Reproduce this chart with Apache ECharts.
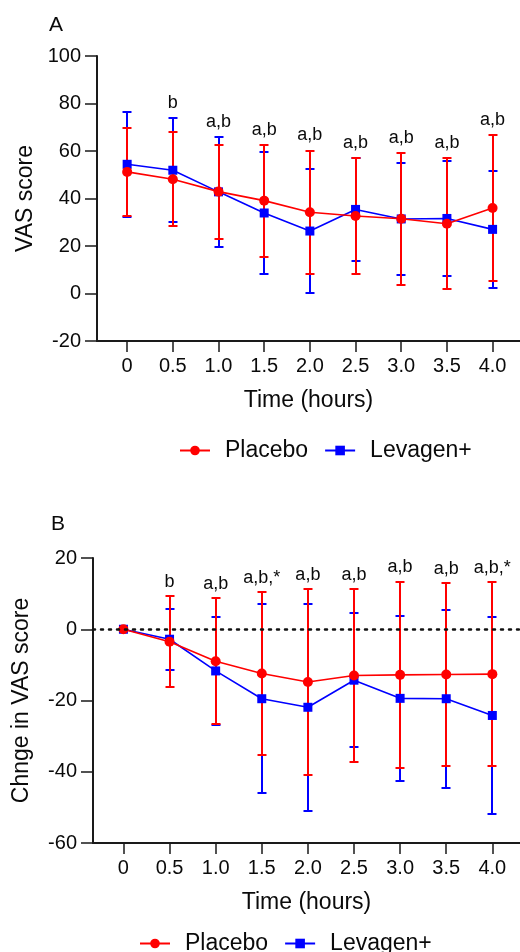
<!DOCTYPE html>
<html>
<head>
<meta charset="utf-8">
<script src="https://cdn.jsdelivr.net/npm/echarts@6/dist/echarts.min.js"></script>
<style>
html,body{margin:0;padding:0;background:#fff;}
#c{width:520px;height:952px;}
</style>
</head>
<body>
<div id="c"></div>
<script>
// ---- data ----
const times = [0, 0.5, 1.0, 1.5, 2.0, 2.5, 3.0, 3.5, 4.0];
const timeLabels = ['0', '0.5', '1.0', '1.5', '2.0', '2.5', '3.0', '3.5', '4.0'];

// Panel A: VAS score (mean, SD)
const placeboA = [51.2, 48.1, 42.9, 39.1, 34.2, 32.6, 31.5, 29.4, 36.0];
const placeboA_sd = [18.5, 19.8, 19.8, 23.6, 26.0, 24.5, 27.8, 27.6, 30.7];
const levagenA = [54.4, 51.9, 42.8, 33.9, 26.3, 35.4, 31.4, 31.6, 27.0];
const levagenA_sd = [22.2, 21.8, 23.1, 25.6, 26.2, 21.6, 23.5, 24.2, 24.7];
const notesA = ['', 'b', 'a,b', 'a,b', 'a,b', 'a,b', 'a,b', 'a,b', 'a,b'];

// Panel B: change in VAS score (mean, SD)
const placeboB = [0, -3.5, -9.0, -12.4, -14.8, -13.0, -12.8, -12.7, -12.6];
const placeboB_sd = [0, 12.8, 17.7, 22.8, 26.2, 24.4, 26.2, 25.8, 25.8];
const levagenB = [0, -2.8, -11.7, -19.5, -21.9, -14.3, -19.4, -19.5, -24.2];
const levagenB_sd = [0, 8.5, 15.2, 26.5, 29.1, 18.8, 23.1, 25.0, 27.7];
const notesB = ['', 'b', 'a,b', 'a,b,*', 'a,b', 'a,b', 'a,b', 'a,b', 'a,b,*'];

const yTicksA = [-20, 0, 20, 40, 60, 80, 100];
const yTicksB = [-60, -40, -20, 0, 20];

// ---- styles ----
const RED = '#ff0000';
const BLUE = '#0000ff';
const FONT = 'Liberation Sans, Arial, sans-serif';
const AXIS = '#1a1a1a';
const TXT = '#0a0a0a';

const chart = echarts.init(document.getElementById('c'), null, {renderer: 'canvas'});

function errData(mean, sd) {
  return times.map((t, i) => [t, mean[i] - sd[i], mean[i] + sd[i]]);
}
function lineData(mean) {
  return times.map((t, i) => [t, mean[i]]);
}
function noteData(notes, m1, s1, m2, s2) {
  return times.map((t, i) => ({value: [t, Math.max(m1[i] + s1[i], m2[i] + s2[i])], label: {formatter: notes[i]}}));
}
function errSeries(data, color, idx) {
  return {
    type: 'custom', xAxisIndex: idx, yAxisIndex: idx,
    data: data, silent: true, itemStyle: {color: color},
    renderItem: function (params, api) {
      const x = api.value(0), lo = api.value(1), hi = api.value(2);
      const p1 = api.coord([x, hi]);
      const p2 = api.coord([x, lo]);
      const cx = Math.round(p1[0]);
      const hw = 4.5;
      const st = {stroke: color, lineWidth: 2, fill: null};
      const y1 = Math.round(p1[1]), y2 = Math.round(p2[1]);
      return {
        type: 'group', children: [
          {type: 'line', shape: {x1: cx, y1: y1, x2: cx, y2: y2}, style: st},
          {type: 'line', shape: {x1: cx - hw, y1: y1, x2: cx + hw, y2: y1}, style: st},
          {type: 'line', shape: {x1: cx - hw, y1: y2, x2: cx + hw, y2: y2}, style: st}
        ]
      };
    }
  };
}
function lineSeries(name, data, color, symbol, size, idx, extra) {
  return Object.assign({
    type: 'line', name: name, xAxisIndex: idx, yAxisIndex: idx,
    data: data, symbol: symbol, symbolSize: size, showAllSymbol: true,
    lineStyle: {color: color, width: 1.6},
    itemStyle: {color: color},
    emphasis: {disabled: true}, animation: false
  }, extra || {});
}
function noteSeries(data, idx, offset) {
  return {
    type: 'scatter', xAxisIndex: idx, yAxisIndex: idx, data: data,
    symbolSize: 0, silent: true, itemStyle: {opacity: 1},
    label: {show: true, position: 'top', distance: offset, color: TXT, opacity: 1, fontSize: 18, fontFamily: FONT}
  };
}
function xAxis(idx) {
  return {
    type: 'value', gridIndex: idx, min: -0.33, max: 4.3,
    name: 'Time (hours)', nameLocation: 'middle', nameGap: 48,
    nameTextStyle: {fontSize: 23, color: TXT, fontFamily: FONT},
    axisLine: {onZero: false, lineStyle: {color: AXIS, width: 2}},
    axisTick: {show: true, length: 11, customValues: times, lineStyle: {color: AXIS, width: 1.5}},
    axisLabel: {customValues: times, margin: 15, fontSize: 20, color: TXT, fontFamily: FONT,
      formatter: function (v) { const i = times.indexOf(v); return i >= 0 ? timeLabels[i] : ''; }},
    splitLine: {show: false}
  };
}
function yAxis(idx, ticks, name) {
  return {
    type: 'value', gridIndex: idx, min: ticks[0], max: ticks[ticks.length - 1], interval: 20,
    name: name, nameLocation: 'middle', nameGap: 60, nameRotate: 90,
    nameTextStyle: {fontSize: 23, color: TXT, fontFamily: FONT},
    axisLine: {show: true, onZero: false, lineStyle: {color: AXIS, width: 2}},
    axisTick: {show: true, length: 12, lineStyle: {color: AXIS, width: 1.5}},
    axisLabel: {margin: 16, fontSize: 20, color: TXT, fontFamily: FONT},
    splitLine: {show: false}
  };
}

const option = {
  animation: false,
  backgroundColor: '#ffffff',
  textStyle: {fontFamily: FONT},
  grid: [
    {left: 97, top: 56, right: 0, height: 285},
    {left: 93, top: 558, right: 0, height: 285}
  ],
  xAxis: [xAxis(0), xAxis(1)],
  yAxis: [yAxis(0, yTicksA, 'VAS score'), yAxis(1, yTicksB, 'Chnge in VAS score')],
  legend: [
    {data: ['Placebo', 'Levagen+'], left: 174, top: 434, itemWidth: 30, itemHeight: 12, itemGap: 16,
      textStyle: {fontSize: 23, color: TXT, fontFamily: FONT, padding: [0, 0, 0, 10]}, selectedMode: false},
    {data: ['Placebo', 'Levagen+'], left: 134, top: 927, itemWidth: 30, itemHeight: 12, itemGap: 16,
      textStyle: {fontSize: 23, color: TXT, fontFamily: FONT, padding: [0, 0, 0, 10]}, selectedMode: false}
  ],
  graphic: [
    {type: 'text', left: 49, top: 15, style: {text: 'A', fontSize: 21, fill: TXT, fontFamily: FONT}},
    {type: 'text', left: 51, top: 514, style: {text: 'B', fontSize: 21, fill: TXT, fontFamily: FONT}}
  ],
  series: [
    errSeries(errData(levagenA, levagenA_sd), BLUE, 0),
    lineSeries('Levagen+', lineData(levagenA), BLUE, 'rect', 9, 0),
    errSeries(errData(placeboA, placeboA_sd), RED, 0),
    lineSeries('Placebo', lineData(placeboA), RED, 'circle', 10, 0),
    noteSeries(noteData(notesA, placeboA, placeboA_sd, levagenA, levagenA_sd), 0, 6),

    errSeries(errData(levagenB, levagenB_sd), BLUE, 1),
    lineSeries('Levagen+', lineData(levagenB), BLUE, 'rect', 9, 1, {
      markLine: {silent: true, symbol: 'none', label: {show: false},
        lineStyle: {color: '#111', type: [2, 6], width: 2.5, cap: 'round'},
        data: [{yAxis: 0}]}
    }),
    errSeries(errData(placeboB, placeboB_sd), RED, 1),
    lineSeries('Placebo', lineData(placeboB), RED, 'circle', 10, 1),
    noteSeries(noteData(notesB, placeboB, placeboB_sd, levagenB, levagenB_sd), 1, 5)
  ]
};
chart.setOption(option);
</script>
</body>
</html>
